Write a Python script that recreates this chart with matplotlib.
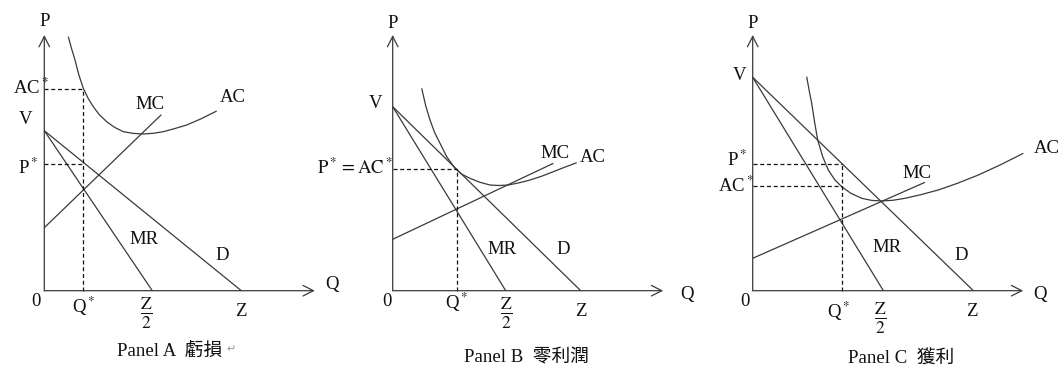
import matplotlib.pyplot as plt

plt.rcParams['font.family'] = ['Liberation Serif', 'Noto Sans CJK TC', 'DejaVu Sans']
plt.rcParams['mathtext.fontset'] = 'stix'

W, H = 1059, 365
OY = 290.7          # Q axis, pixels from the top edge
P_TOP, Q_END = 255.7, 270.5

# Panel A: loss (AC* above P*)
a_V, a_Z, a_mr_end = 160, 197, 108
a_mc_q, a_mc_p = [0, 117], [63, 176]
a_ac_q = [24, 27, 30.7, 34.5, 39, 44, 49, 55, 62.4, 70, 79, 89, 99, 109, 119, 130, 142.4, 157, 172.4]
a_ac_p = [254, 243, 230.7, 216, 202.4, 192, 184, 176, 169, 163.5, 159, 157.3, 156.7, 157.4, 159, 162, 165.7, 172, 179.7]
a_qstar, a_pstar, a_acstar = 39, 127, 201.4

# Panel B: zero profit (AC tangent to D)
b_V, b_Z, b_mr_end = 184, 188, 113
b_mc_q, b_mc_p = [0, 160.7], [51.4, 127.4]
b_ac_q = [29, 33, 37.3, 42, 47.3, 54, 62.3, 69, 77.3, 87, 97.3, 106, 115.6, 126, 137.3, 149, 160.6, 172, 184]
b_ac_p = [202.4, 185, 170.7, 158, 147.4, 134, 122.4, 116.5, 112.4, 108.5, 105.7, 105.2, 105.7, 107.8, 110.7, 114.5, 119, 123.5, 128]
b_qstar, b_pstar = 64, 121.7

# Panel C: profit (P* above AC*)
c_V, c_Z, c_mr_end = 213.4, 220.7, 130.7
c_mc_q, c_mc_p = [0, 172.3], [32.4, 108.4]
c_ac_q = [54, 56.5, 59, 62, 65, 70, 75.6, 82, 89, 98, 109, 119, 129, 140, 152.3, 168, 185.6, 205, 225.6, 248, 270.6]
c_ac_p = [214, 200, 187.4, 168, 150.7, 134, 120.7, 111, 104, 97.5, 92.4, 90.3, 89.7, 90.4, 92.4, 96, 100.7, 107.5, 115.7, 126, 137.4]
c_qstar, c_pstar, c_acstar = 89, 127, 104.4

LINE = '#3a3a3a'
FS = 13.5
HALF = r'$\frac{\mathrm{Z}}{2}$'


def setup(x0, x1, ox):
    ax = fig.add_axes([x0 / W, 0, (x1 - x0) / W, 1])
    ax.set_xlim(x0 - ox, x1 - ox)
    ax.set_ylim(OY - H, OY)
    ax.axis('off')
    arrow = dict(arrowstyle='->,head_length=0.75,head_width=0.38', mutation_scale=10,
                 color=LINE, lw=0.9, shrinkA=0, shrinkB=0)
    ax.annotate('', xy=(0, P_TOP), xytext=(0, 0), arrowprops=arrow)
    ax.annotate('', xy=(Q_END, 0), xytext=(0, 0), arrowprops=arrow)
    return ax


def curves(ax, V, Z, mr_end, mc_q, mc_p, ac_q, ac_p):
    kw = dict(color=LINE, lw=0.9, solid_capstyle='butt')
    ax.plot([0, Z], [V, 0], **kw)         # D
    ax.plot([0, mr_end], [V, 0], **kw)    # MR
    ax.plot(mc_q, mc_p, **kw)             # MC
    ax.plot(ac_q, ac_p, **kw)             # AC


def dashed(ax, qs, levels):
    kw = dict(color='#111111', lw=0.9, linestyle=(0, (3.2, 2.2)))
    ax.plot([qs, qs], [0, max(levels)], **kw)
    for p in levels:
        ax.plot([0, qs], [p, p], **kw)


def label(ax, q, p, s, ha='center', size=FS):
    ax.text(q, p, s, ha=ha, va='center', fontsize=size, color='#111111')


def caption(ax, q, p, s):
    ax.text(q, p, s, ha='left', va='center', fontsize=FS, color='#111111')


fig = plt.figure(figsize=(W / 100, H / 100), dpi=100)

# ---- Panel A
ax = setup(0, 345, 44.3)
curves(ax, a_V, a_Z, a_mr_end, a_mc_q, a_mc_p, a_ac_q, a_ac_p)
dashed(ax, a_qstar, [a_acstar, a_pstar])
label(ax, 0, 269.7, 'P')
label(ax, 287.7, 5.7, 'Q')
label(ax, -8.3, -11.3, '0')
label(ax, a_qstar, -16, r'Q$^*$')
label(ax, 102.4, -22.5, HALF, size=18)
label(ax, a_Z, -21.3, 'Z')
label(ax, 5, a_acstar + 1, r'AC$^*$', ha='right')
label(ax, -18.3, 171.7, 'V')
label(ax, -16, a_pstar - 4, r'P$^*$')
label(ax, 105.7, 186, 'MC')
label(ax, 188.7, 192.7, 'AC')
label(ax, 99.7, 51.7, 'MR')
label(ax, 177.7, 35.7, 'D')
caption(ax, 117 - 44.3, OY - 351.7, 'Panel A  虧損')
ax.text(226 - 44.3, OY - 350, '↵', ha='left', va='center', fontsize=8, color='#999999')

# ---- Panel B
ax = setup(345, 705, 392.7)
curves(ax, b_V, b_Z, b_mr_end, b_mc_q, b_mc_p, b_ac_q, b_ac_p)
dashed(ax, b_qstar, [b_pstar])
label(ax, 0, 267.7, 'P')
label(ax, 294.3, -4.3, 'Q')
label(ax, -5.7, -11.3, '0')
label(ax, b_qstar, -11.3, r'Q$^*$')
label(ax, 113.3, -22.5, HALF, size=18)
label(ax, b_Z, -21.3, 'Z')
label(ax, -16.7, 186.7, 'V')
label(ax, 0, b_pstar + 1, r'$\mathrm{P}^*=\mathrm{AC}^*$', ha='right')
label(ax, 162.3, 137.7, 'MC')
label(ax, 200.3, 133.7, 'AC')
label(ax, 109.3, 40.7, 'MR')
label(ax, 170.3, 40.7, 'D')
caption(ax, 464 - 392.7, OY - 358.3, 'Panel B  零利潤')

# ---- Panel C
ax = setup(705, 1059, 752.7)
curves(ax, c_V, c_Z, c_mr_end, c_mc_q, c_mc_p, c_ac_q, c_ac_p)
dashed(ax, c_qstar, [c_pstar, c_acstar])
label(ax, 0, 267.7, 'P')
label(ax, 287.3, -4.3, 'Q')
label(ax, -7.7, -11.3, '0')
label(ax, 85.6, -21, r'Q$^*$')
label(ax, 127.3, -27.6, HALF, size=18)
label(ax, 219, -21, 'Z')
label(ax, -12.7, 214.7, 'V')
label(ax, -5, 130.7, r'P$^*$', ha='right')
label(ax, 1, c_acstar, r'AC$^*$', ha='right')
label(ax, 164, 117.4, 'MC')
label(ax, 294, 142.4, 'AC')
label(ax, 134, 43.4, 'MR')
label(ax, 209, 35.7, 'D')
caption(ax, 848 - 752.7, OY - 358.3, 'Panel C  獲利')

fig.savefig('out.png', dpi=100)
